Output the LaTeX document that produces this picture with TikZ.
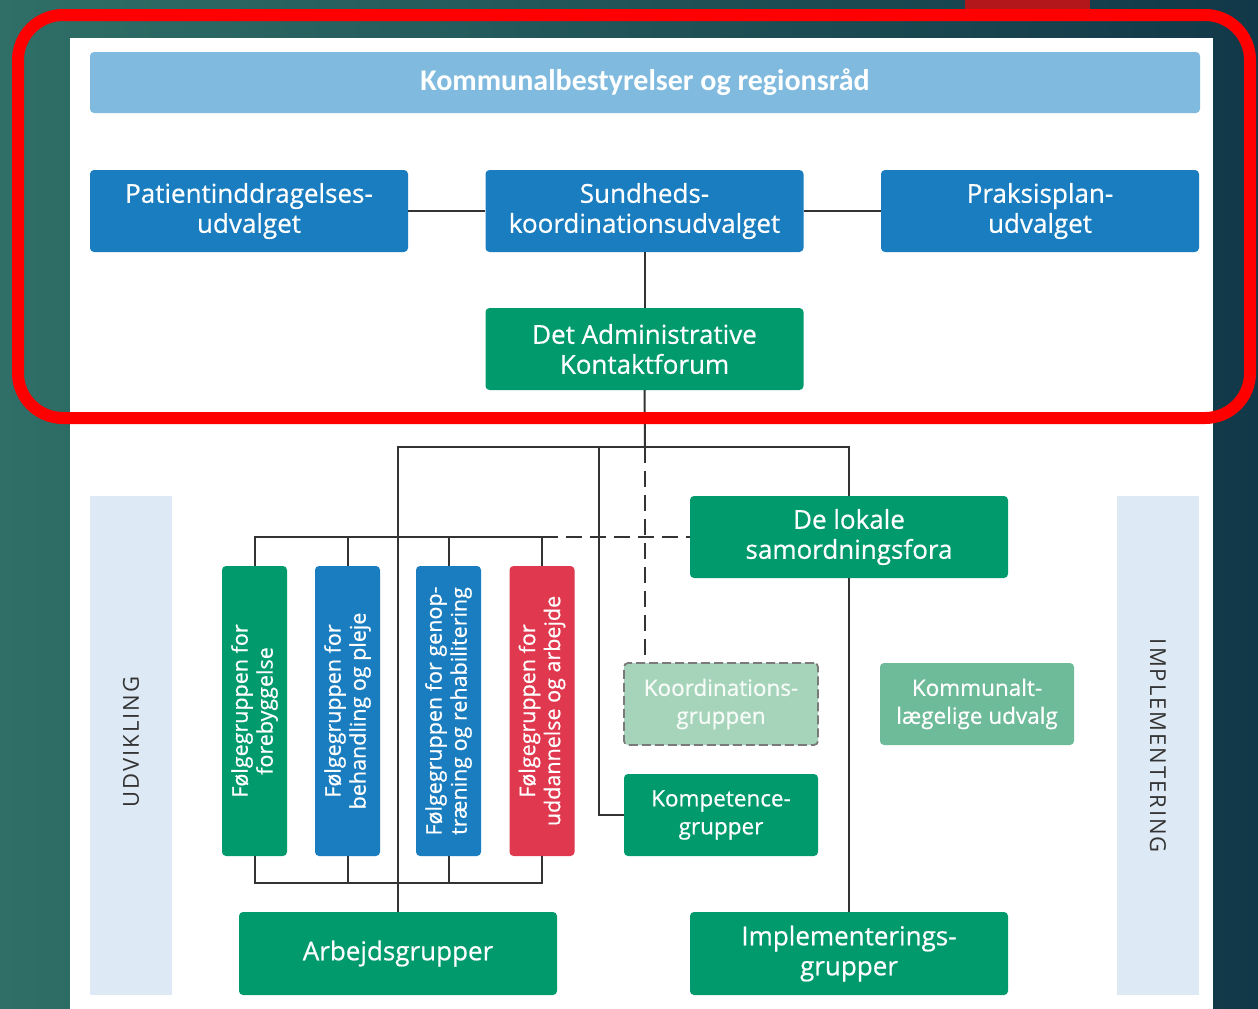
\documentclass[tikz,border=0pt]{standalone}
\usepackage{fontspec}
\setmainfont{Open Sans}[FakeBold=0.6]
\newfontfamily\mfont[FakeBold=0.6]{Open Sans}
\newfontfamily\topfont{Carlito}
\newfontfamily\bandfont[LetterSpace=9]{Open Sans}
\usetikzlibrary{calc}
\definecolor{bgL}{HTML}{2F6F67}
\definecolor{bgR}{HTML}{113848}
\definecolor{topblue}{HTML}{80BBDF}
\definecolor{dblue}{HTML}{1A7DBF}
\definecolor{dgreen}{HTML}{009A6D}
\definecolor{dred}{HTML}{E0384E}
\definecolor{lgreen}{HTML}{A6D4BA}
\definecolor{mgreen}{HTML}{6EBB9A}
\definecolor{band}{HTML}{DDE9F4}
\definecolor{lin}{HTML}{333333}
\definecolor{dashgray}{HTML}{7A7A7A}
\definecolor{frame}{HTML}{FF0000}
\definecolor{tabred}{HTML}{B3161B}
\tikzset{
  box/.style={rounded corners=4pt, inner sep=0pt, align=center, text=white,
    font=\mfont\fontsize{26}{30}\selectfont},
  wide/.style={box, minimum width=318pt, minimum height=82pt},
  small/.style={box, minimum width=194pt, minimum height=82pt,
    font=\mfont\fontsize{22.5}{28}\selectfont},
  tall/.style={rounded corners=4pt, inner sep=0pt, minimum width=65pt, minimum height=290pt},
  vtext/.style={rotate=90, align=center, text=white, inner sep=0pt,
    font=\mfont\fontsize{21.5}{25}\selectfont},
  conn/.style={draw=lin, line width=2pt},
  bandbox/.style={fill=band, inner sep=0pt, minimum width=82pt, minimum height=499pt},
  bandtext/.style={text=lin, inner sep=0pt, font=\bandfont\fontsize{22}{26}\selectfont}
}
\begin{document}
\begin{tikzpicture}[x=1pt,y=-1pt]
\useasboundingbox (0,0) rectangle (1258,1009);
% background
\shade[left color=bgL, right color=bgR] (0,0) rectangle (1258,1009);
\fill[tabred] (965,0) rectangle (1090,12);
\fill[white] (70,38) rectangle (1213,1009);

% bands
\node[bandbox] (udvband) at (131,745.5) {};
\node[bandtext, rotate=90] (udv) at (131,742) {UDVIKLING};
\node[bandbox] (impband) at (1158,745.5) {};
\node[bandtext, rotate=-90] (impl) at (1158,746) {IMPLEMENTERING};

% top
\node[box, fill=topblue, minimum width=1110pt, minimum height=61pt,
  font=\topfont\bfseries\fontsize{30}{34}\selectfont] (top) at (645,82.5) {Kommunalbestyrelser og regionsråd};
\node[wide, fill=dblue] (pat) at (249,211) {Patientinddragelses-\\udvalget};
\node[wide, fill=dblue] (sun) at (644.5,211) {Sundheds-\\koordinationsudvalget};
\node[wide, fill=dblue] (pra) at (1040,211) {Praksisplan-\\udvalget};
\node[wide, fill=dgreen] (adk) at (644.5,349) {Det Administrative\\Kontaktforum};
\node[wide, fill=dgreen] (lok) at (849,537) {De lokale\\samordningsfora};

% følgegrupper
\node[tall, fill=dgreen] (f1) at (254.5,711) {};
\node[tall, fill=dblue] (f2) at (347.5,711) {};
\node[tall, fill=dblue] (f3) at (448.5,711) {};
\node[tall, fill=dred] (f4) at (542,711) {};
\node[vtext] (t1) at (f1.center) {Følgegruppen for\\forebyggelse};
\node[vtext] (t2) at (f2.center) {Følgegruppen for\\behandling og pleje};
\node[vtext] (t3) at (f3.center) {Følgegruppen for genop-\\træning og rehabilitering};
\node[vtext] (t4) at (f4.center) {Følgegruppen for\\uddannelse og arbejde};

\node[small, fill=lgreen, draw=dashgray, dash pattern=on 9pt off 4pt, line width=1.8pt, text=white!92!lgreen] (koo) at (721,704) {Koordinations-\\gruppen};
\node[small, fill=mgreen] (kom) at (977,704) {Kommunalt-\\lægelige udvalg};
\node[small, fill=dgreen] (kpt) at (721,815) {Kompetence-\\grupper};
\node[box, fill=dgreen, minimum width=318pt, minimum height=83pt] (arb) at (398,953.5) {Arbejdsgrupper};
\node[box, fill=dgreen, minimum width=318pt, minimum height=83pt] (imp) at (849,953.5) {Implementerings-\\grupper};

% connectors
\coordinate (j1) at (645,447);
\coordinate (j2) at (599,447);
\coordinate (bt) at (0,537);
\coordinate (bb) at (0,883);
\draw[conn] (pat.east) -- (sun.west);
\draw[conn] (sun.east) -- (pra.west);
\draw[conn] (adk.north) -- (sun.south);
\draw[conn] (adk.south) -- (j1);
\draw[conn, dash pattern=on 16pt off 8pt] (j1) -- (j1 |- koo.north);
\draw[conn] (arb.north) -- (arb.north |- j1) -- (j1 -| lok.north) -- (lok.north);
\draw[conn] (j2) |- (kpt.west);
\draw[conn] (f1.north) -- (f1.north |- bt) -- (f4.north |- bt) -- (f4.north);
\draw[conn] (f2.north) -- (f2.north |- bt);
\draw[conn] (f3.north) -- (f3.north |- bt);
\draw[conn, dash pattern=on 16pt off 8pt] (f4.north |- bt) -- (lok.west);
\draw[conn] (f1.south) -- (f1.south |- bb) -- (f4.south |- bb) -- (f4.south);
\draw[conn] (f2.south) -- (f2.south |- bb);
\draw[conn] (f3.south) -- (f3.south |- bb);
\draw[conn] (lok.south) -- (imp.north);

% red highlight frame
\draw[frame, line width=12pt, rounded corners=45pt] (18,15) rectangle (1250,418);
\end{tikzpicture}
\end{document}
